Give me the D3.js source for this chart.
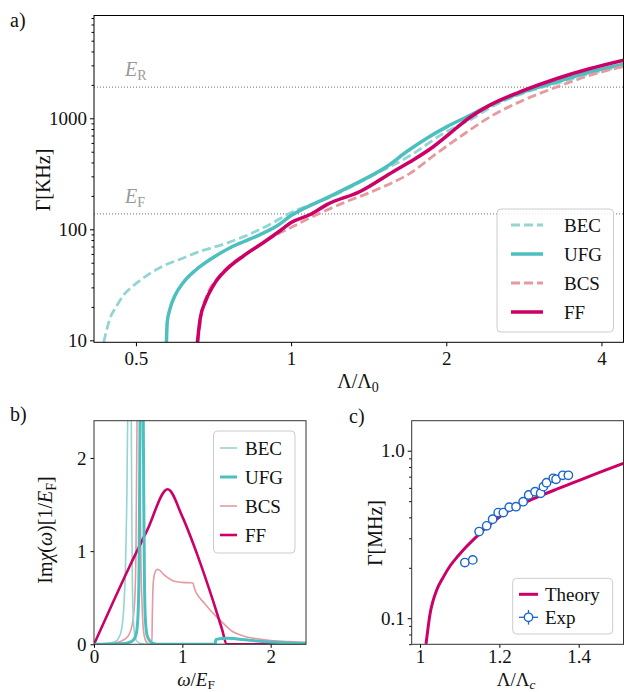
<!DOCTYPE html>
<html>
<head>
<meta charset="utf-8">
<script src="https://cdn.jsdelivr.net/npm/d3@7"></script>
<style>
body { margin: 0; background: #fff; }
svg { display: block; }
svg text { font-family: "Liberation Serif", serif; }
</style>
</head>
<body>
<svg width="624" height="692"></svg>
<script>
const FONT = '"Liberation Serif", serif';

// ---- panel a : Gamma vs Lambda/Lambda0 ----
const becLam = [0.433, 0.445, 0.459, 0.472, 0.494, 0.524, 0.565, 0.609, 0.666, 0.739, 0.820, 0.910, 1.0, 1.173, 1.467, 1.703, 1.973, 2.257, 2.435, 2.826, 3.281, 3.808, 4.42];
const becGam = [9.6, 15.6, 20.5, 25.2, 31.0, 38.1, 46.8, 53.7, 63.4, 73.3, 88.1, 110.7, 141.6, 189, 320, 462, 730, 1007, 1250, 1686, 2071, 2519, 2943];
const ufgLam = [0.573, 0.575, 0.582, 0.595, 0.618, 0.656, 0.706, 0.773, 0.858, 0.938, 1.0, 1.173, 1.361, 1.534, 1.677, 1.834, 2.007, 2.194, 2.435, 2.826, 3.281, 3.808, 4.42];
const ufgGam = [9.6, 14.6, 19.1, 25.2, 33.2, 43.7, 55.7, 70.7, 86.9, 107, 133, 192, 270, 368, 502, 662, 841, 1033, 1315, 1730, 2128, 2618, 3069];
const bcsLam = [0.660, 0.671, 0.686, 0.718, 0.773, 0.845, 0.924, 1.0, 1.089, 1.263, 1.467, 1.703, 1.918, 2.129, 2.435, 2.826, 3.281, 3.808, 4.42];
const bcsGam = [9.6, 17.9, 25.2, 35.6, 50.2, 66.1, 86.9, 104, 127, 173, 228, 321, 485, 684, 1033, 1459, 1919, 2443, 2943];
const ffLam = [0.658, 0.666, 0.681, 0.706, 0.750, 0.808, 0.884, 0.952, 1.0, 1.089, 1.173, 1.361, 1.580, 1.728, 1.890, 2.036, 2.161, 2.435, 2.826, 3.281, 3.808, 4.42];
const ffGam = [9.6, 15.6, 22, 31, 43.7, 57.5, 76, 97, 115, 136, 167, 219, 332, 423, 557, 735, 925, 1320, 1780, 2283, 2805, 3330];
const energyLevels = [1905, 138];   // E_R, E_F
const aXTicks = [0.5, 1, 2, 4];
const aXLabels = ['0.5', '1', '2', '4'];
const aYTicks = [10, 100, 1000];
const aYLabels = ['10', '100', '1000'];
const aNames = ['BEC', 'UFG', 'BCS', 'FF'];

// ---- panel b : Im chi(omega) ----
const bBecX = [0, 0.15, 0.24, 0.28, 0.31, 0.33, 0.355, 0.372, 0.381, 0.40, 0.422, 0.428, 0.435, 0.45, 0.47, 0.5, 0.55, 0.6, 2.4];
const bBecY = [0, 0.01, 0.03, 0.07, 0.15, 0.3, 0.8, 1.6, 2.4, 3.5, 2.4, 1.4, 0.6, 0.2, 0.06, 0.02, 0.005, 0, 0];
const bUfgX = [0, 0.3, 0.4, 0.45, 0.48, 0.5, 0.51, 0.516, 0.521, 0.54, 0.558, 0.563, 0.57, 0.58, 0.6, 0.63, 0.67, 0.75, 1.37, 1.38, 1.42, 1.5, 1.6, 1.8, 2.0, 2.2, 2.4];
const bUfgY = [0, 0.005, 0.02, 0.05, 0.12, 0.35, 0.8, 1.6, 2.4, 3.5, 2.4, 1.6, 0.8, 0.3, 0.1, 0.04, 0.01, 0, 0, 0.05, 0.06, 0.065, 0.06, 0.04, 0.025, 0.015, 0.01];
const bBcsX = [0, 0.2, 0.3, 0.38, 0.43, 0.46, 0.475, 0.487, 0.5, 0.518, 0.53, 0.545, 0.56, 0.58, 0.61, 0.655, 0.66, 0.67, 0.69, 0.72, 0.8, 0.9, 1.0, 1.1, 1.12, 1.14, 1.16, 1.25, 1.35, 1.465, 1.55, 1.69, 1.85, 2.0, 2.2, 2.4];
const bBcsY = [0, 0.01, 0.03, 0.08, 0.2, 0.45, 1.0, 2.4, 3.5, 2.4, 1.0, 0.4, 0.15, 0.05, 0.01, 0, 0.3, 0.65, 0.77, 0.805, 0.74, 0.68, 0.665, 0.66, 0.655, 0.59, 0.55, 0.44, 0.33, 0.225, 0.15, 0.09, 0.06, 0.04, 0.03, 0.02];
const bFfX = [0, 0.2, 0.4, 0.6, 0.834, 1.0, 1.17, 1.35, 1.45, 1.503, 2.4];
const bFfY = [0, 0.42, 0.83, 1.22, 1.664, 1.37, 0.96, 0.46, 0.16, 0, 0];
const bTicks = [0, 1, 2];

// ---- panel c : theory vs experiment ----
const thLam = [1.0151, 1.0202, 1.0252, 1.0328, 1.0421, 1.0587, 1.0756, 1.0958, 1.116, 1.1386, 1.1765, 1.2186, 1.2604, 1.3025, 1.3446, 1.3864, 1.4285, 1.5125];
const thGam = [0.0703, 0.0875, 0.106, 0.127, 0.1475, 0.176, 0.205, 0.235, 0.266, 0.301, 0.363, 0.431, 0.486, 0.537, 0.589, 0.644, 0.706, 0.841];
const expLam = [1.113, 1.133, 1.149, 1.168, 1.183, 1.197, 1.210, 1.225, 1.242, 1.260, 1.274, 1.290, 1.304, 1.311, 1.319, 1.336, 1.343, 1.360, 1.374];
const expGam = [0.215, 0.223, 0.329, 0.356, 0.390, 0.427, 0.427, 0.460, 0.463, 0.496, 0.544, 0.569, 0.557, 0.610, 0.644, 0.684, 0.675, 0.713, 0.713];
const expErr = [0.008, 0.008, 0.01, 0.01, 0.012, 0.012, 0.012, 0.014, 0.014, 0.015, 0.016, 0.016, 0.016, 0.02, 0.018, 0.018, 0.018, 0.02, 0.02];
const cXTicks = [1, 1.2, 1.4];
const cXLabels = ['1', '1.2', '1.4'];
const cYTicks = [0.1, 1.0];
const cYLabels = ['0.1', '1.0'];

const cLight = '#93d5d3', cTeal = '#4dbfbf', cPink = '#e69a9f', cMag = '#cc0066', cBlue = '#1a66cc';

const svg = d3.select('svg');

function zip(xs, ys) { return xs.map((x, i) => [x, ys[i]]); }

function logMinors(lo, hi) {
  const out = [];
  for (let e = -3; e <= 4; e++) {
    for (let k = 2; k <= 9; k++) {
      const v = k * Math.pow(10, e);
      if (v >= lo && v <= hi) out.push(v);
    }
  }
  return out;
}

function styleAxis(g, size) {
  g.attr('font-family', null).attr('font-size', size);
  g.select('.domain').remove();
  g.selectAll('line').attr('stroke', '#000');
  g.selectAll('text').attr('fill', '#111').style('font-family', FONT);
}

// rich text: parts = [[text, flags]]  flags: i = italic, s = subscript
function rich(parent, x, y, parts, size, anchor, rot, color) {
  const t = parent.append('text')
    .style('font-family', FONT).attr('font-size', size)
    .attr('fill', color || '#111')
    .attr('text-anchor', anchor || 'start');
  if (rot) t.attr('transform', `translate(${x},${y}) rotate(-90)`);
  else t.attr('x', x).attr('y', y);
  let shifted = false;
  parts.forEach(p => {
    const f = p[1] || '';
    const s = t.append('tspan').text(p[0]);
    if (f.includes('i')) s.attr('font-style', 'italic');
    if (f.includes('s')) {
      s.attr('font-size', size * 0.7).attr('dy', size * 0.2);
      shifted = true;
    } else if (shifted) {
      s.attr('dy', -size * 0.2);
      shifted = false;
    }
  });
  return t;
}

function legendText(g, x, y, txt) {
  g.append('text').attr('x', x).attr('y', y).text(txt)
    .style('font-family', FONT).attr('font-size', 19).attr('fill', '#111');
}

function frame(g, x0, y0, x1, y1, col) {
  g.append('rect').attr('x', x0).attr('y', y0).attr('width', x1 - x0).attr('height', y1 - y0)
    .attr('fill', 'none').attr('stroke', col || '#000').attr('stroke-width', 1);
}

function clip(id, x0, y0, x1, y1) {
  svg.append('clipPath').attr('id', id).append('rect')
    .attr('x', x0).attr('y', y0).attr('width', x1 - x0).attr('height', y1 - y0);
}

// ================= panel a =================
const A = { l: 94, r: 623.5, t: 15.5, b: 342.3 };
const xa = d3.scaleLog().base(2).domain([0.4146, 4.414]).range([A.l, A.r]);
const ya = d3.scaleLog().domain([9.6, 8430]).range([A.b, A.t]);
clip('clipA', A.l, A.t, A.r, A.b);

const ga = svg.append('g');
energyLevels.forEach(v => {
  ga.append('line').attr('x1', A.l).attr('x2', A.r).attr('y1', ya(v)).attr('y2', ya(v))
    .attr('stroke', '#888').attr('stroke-width', 1.2).attr('stroke-dasharray', '1,2');
});
rich(ga, 125, ya(energyLevels[0]) - 11, [['E', 'i'], ['R', 's']], 20, 'start', false, '#999');
rich(ga, 125, ya(energyLevels[1]) - 11, [['E', 'i'], ['F', 's']], 20, 'start', false, '#999');

const lineA = d3.line().x(d => xa(d[0])).y(d => ya(d[1])).curve(d3.curveMonotoneX);
const aSeries = [
  { d: zip(becLam, becGam), c: cLight, w: 2.8, dash: '9,4' },
  { d: zip(ufgLam, ufgGam), c: cTeal, w: 3.5, dash: null },
  { d: zip(bcsLam, bcsGam), c: cPink, w: 2.8, dash: '9,4' },
  { d: zip(ffLam, ffGam), c: cMag, w: 3.5, dash: null }
];
const curvesA = ga.append('g').attr('clip-path', 'url(#clipA)');
aSeries.forEach(s => {
  curvesA.append('path').attr('d', lineA(s.d)).attr('fill', 'none')
    .attr('stroke', s.c).attr('stroke-width', s.w)
    .attr('stroke-dasharray', s.dash);
});

ga.append('g').attr('transform', `translate(${A.l},0)`)
  .call(d3.axisLeft(ya).tickValues(logMinors(9.6, 8430)).tickFormat('').tickSize(2.5))
  .call(g => styleAxis(g, 18));
ga.append('g').attr('transform', `translate(${A.l},0)`)
  .call(d3.axisLeft(ya).tickValues(aYTicks).tickFormat((d, i) => aYLabels[i]).tickSize(4).tickPadding(3))
  .call(g => styleAxis(g, 19));
ga.append('g').attr('transform', `translate(0,${A.b})`)
  .call(d3.axisBottom(xa).tickValues(aXTicks).tickFormat((d, i) => aXLabels[i]).tickSize(4).tickPadding(5))
  .call(g => styleAxis(g, 19));
frame(ga, A.l, A.t, A.r, A.b);

rich(ga, 50, 180, [['Γ[KHz]', '']], 20, 'middle', true);
rich(ga, 358, 388, [['Λ/Λ', ''], ['0', 's']], 20, 'middle');
rich(ga, 10, 27, [['a)', '']], 20);

// legend a
const la = ga.append('g');
la.append('rect').attr('x', 497).attr('y', 209).attr('width', 116.5).attr('height', 123).attr('rx', 4)
  .attr('fill', '#fff').attr('fill-opacity', 0.85).attr('stroke', '#ccc');
aSeries.forEach((s, i) => {
  const y = 225 + i * 29;
  la.append('line').attr('x1', 511).attr('x2', 543).attr('y1', y).attr('y2', y)
    .attr('stroke', s.c).attr('stroke-width', s.w).attr('stroke-dasharray', s.dash);
  legendText(la, 564, y + 6.5, aNames[i]);
});

// ================= panel b =================
const B = { l: 94, r: 306, t: 420.7, b: 644.3 };
const xb = d3.scaleLinear().domain([0, 2.4]).range([B.l, B.r]);
const yb = d3.scaleLinear().domain([0, 2.4]).range([B.b, B.t]);
clip('clipB', B.l, B.t, B.r, B.b);
const gb = svg.append('g');
const lineB = d3.line().x(d => xb(d[0])).y(d => yb(d[1])).curve(d3.curveMonotoneX);
const bSeries = [
  { d: zip(bBecX, bBecY), c: cLight, w: 1.6, n: 'BEC' },
  { d: zip(bUfgX, bUfgY), c: cTeal, w: 3, n: 'UFG' },
  { d: zip(bBcsX, bBcsY), c: cPink, w: 1.6, n: 'BCS' },
  { d: zip(bFfX, bFfY), c: cMag, w: 2.6, n: 'FF' }
];
const curvesB = gb.append('g').attr('clip-path', 'url(#clipB)');
[2, 0, 3, 1].forEach(k => {
  const s = bSeries[k];
  curvesB.append('path').attr('d', lineB(s.d)).attr('fill', 'none')
    .attr('stroke', s.c).attr('stroke-width', s.w);
});
gb.append('g').attr('transform', `translate(${B.l},0)`)
  .call(d3.axisLeft(yb).tickValues(bTicks).tickFormat(d3.format('d')).tickSize(3.5).tickPadding(4))
  .call(g => styleAxis(g, 19));
gb.append('g').attr('transform', `translate(0,${B.b})`)
  .call(d3.axisBottom(xb).tickValues(bTicks).tickFormat(d3.format('d')).tickSize(3.5).tickPadding(2))
  .call(g => styleAxis(g, 19));
frame(gb, B.l, B.t, B.r, B.b, '#333');
rich(gb, 52, 530, [['Im', ''], ['χ', 'i'], ['(', ''], ['ω', 'i'], [')[1/', ''], ['E', 'i'], ['F', 's'], [']', '']], 20, 'middle', true);
rich(gb, 196, 685.5, [['ω', 'i'], ['/', ''], ['E', 'i'], ['F', 's']], 19, 'middle');
rich(gb, 10, 421, [['b)', '']], 20);

const lb = gb.append('g');
lb.append('rect').attr('x', 213.5).attr('y', 431).attr('width', 81.5).attr('height', 122).attr('rx', 4)
  .attr('fill', '#fff').attr('fill-opacity', 0.85).attr('stroke', '#ccc');
bSeries.forEach((s, i) => {
  const y = 448 + i * 29;
  lb.append('line').attr('x1', 220).attr('x2', 237).attr('y1', y).attr('y2', y)
    .attr('stroke', s.c).attr('stroke-width', s.w);
  legendText(lb, 245, y + 6.5, s.n);
});

// ================= panel c =================
const C = { l: 411.7, r: 623.5, t: 420.7, b: 644.3 };
const xc = d3.scaleLinear().domain([0.979, 1.513]).range([C.l, C.r]);
const yc = d3.scaleLog().domain([0.0699, 1.51]).range([C.b, C.t]);
clip('clipC', C.l, C.t, C.r, C.b);
const gc = svg.append('g');
const lineC = d3.line().x(d => xc(d[0])).y(d => yc(d[1])).curve(d3.curveMonotoneX);
const plotC = gc.append('g').attr('clip-path', 'url(#clipC)');
plotC.append('path').attr('d', lineC(zip(thLam, thGam))).attr('fill', 'none')
  .attr('stroke', cMag).attr('stroke-width', 3);
const pts = plotC.selectAll('g.pt').data(expLam.map((x, i) => ({ x, y: expGam[i], e: expErr[i] })))
  .enter().append('g');
pts.append('line').attr('x1', d => xc(d.x)).attr('x2', d => xc(d.x))
  .attr('y1', d => yc(d.y - d.e)).attr('y2', d => yc(d.y + d.e))
  .attr('stroke', cBlue).attr('stroke-width', 1.3);
pts.append('circle').attr('cx', d => xc(d.x)).attr('cy', d => yc(d.y)).attr('r', 4.2)
  .attr('fill', '#fff').attr('stroke', cBlue).attr('stroke-width', 1.4);

gc.append('g').attr('transform', `translate(${C.l},0)`)
  .call(d3.axisLeft(yc).tickValues(logMinors(0.0699, 1.51)).tickFormat('').tickSize(2.5))
  .call(g => styleAxis(g, 18));
gc.append('g').attr('transform', `translate(${C.l},0)`)
  .call(d3.axisLeft(yc).tickValues(cYTicks).tickFormat((d, i) => cYLabels[i]).tickSize(4).tickPadding(3))
  .call(g => styleAxis(g, 19));
gc.append('g').attr('transform', `translate(0,${C.b})`)
  .call(d3.axisBottom(xc).tickValues(cXTicks).tickFormat((d, i) => cXLabels[i]).tickSize(3.5).tickPadding(2))
  .call(g => styleAxis(g, 19));
frame(gc, C.l, C.t, C.r, C.b, '#333');
rich(gc, 382, 533, [['Γ[MHz]', '']], 20, 'middle', true);
rich(gc, 516, 685.5, [['Λ/Λ', ''], ['c', 'is']], 19, 'middle');
rich(gc, 349, 423, [['c)', '']], 20);

const lc = gc.append('g');
lc.append('rect').attr('x', 512.7).attr('y', 578.3).attr('width', 100).attr('height', 55.7).attr('rx', 4)
  .attr('fill', '#fff').attr('fill-opacity', 0.85).attr('stroke', '#ccc');
lc.append('line').attr('x1', 519).attr('x2', 538).attr('y1', 594.3).attr('y2', 594.3)
  .attr('stroke', cMag).attr('stroke-width', 3);
legendText(lc, 545, 600.8, 'Theory');
lc.append('line').attr('x1', 519).attr('x2', 538).attr('y1', 617.3).attr('y2', 617.3)
  .attr('stroke', cBlue).attr('stroke-width', 1.3);
lc.append('line').attr('x1', 528.5).attr('x2', 528.5).attr('y1', 610).attr('y2', 624.6)
  .attr('stroke', cBlue).attr('stroke-width', 1.3);
lc.append('circle').attr('cx', 528.5).attr('cy', 617.3).attr('r', 4.2)
  .attr('fill', '#fff').attr('stroke', cBlue).attr('stroke-width', 1.4);
legendText(lc, 545, 623.8, 'Exp');
</script>
</body>
</html>
